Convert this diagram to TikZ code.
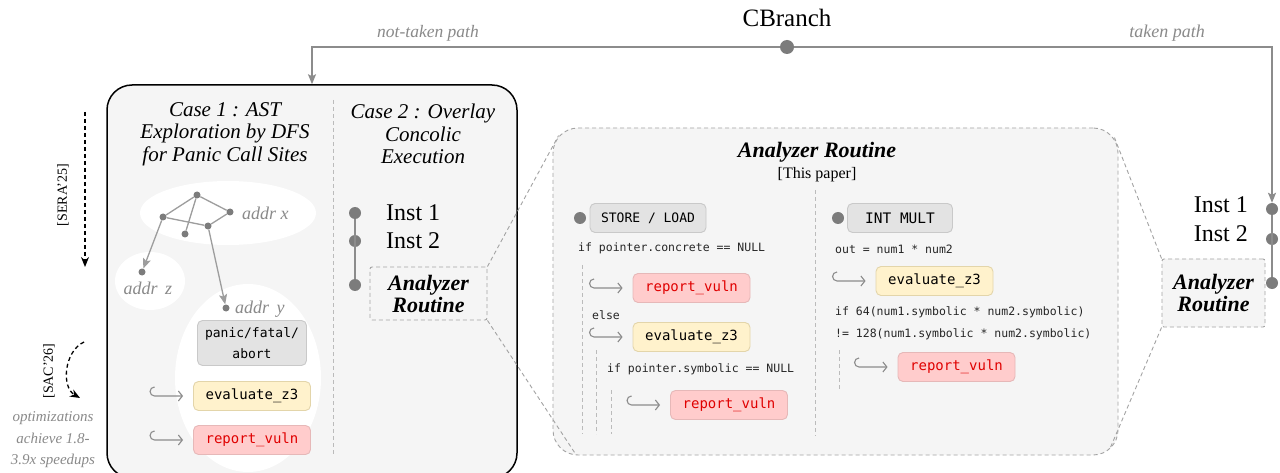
\documentclass[tikz,border=0pt]{standalone}
\usepackage{fontspec}
\setmainfont{Liberation Serif}
\setmonofont{DejaVu Sans Mono}
\usetikzlibrary{arrows.meta,positioning,calc}

\definecolor{panelbg}{HTML}{F5F5F5}
\definecolor{linegray}{HTML}{8C8C8C}
\definecolor{dotgray}{HTML}{7C7C7C}
\definecolor{sepgray}{HTML}{BBBBBB}
\definecolor{txtgray}{HTML}{8A8A8A}
\definecolor{instbg}{HTML}{E3E3E3}
\definecolor{instbd}{HTML}{C9C9C9}
\definecolor{evalbg}{HTML}{FFF2CC}
\definecolor{evalbd}{HTML}{E3D5AA}
\definecolor{vulnbg}{HTML}{FFCCCC}
\definecolor{vulnbd}{HTML}{E6B8B8}
\definecolor{vulntxt}{HTML}{E00000}

\newcommand{\fsz}[2]{\fontsize{#1}{#2}\selectfont}
% hook arrow pointing at the west side of a box
\newcommand{\hookto}[1]{%
  \draw[hookline] ($(#1.west)+(-38.5,-9)$) arc[start angle=270,end angle=90,radius=4.5]
    -- ($(#1.west)+(-10,0)$);}

\tikzset{
  gdot/.style={circle,fill=dotgray,inner sep=0pt,minimum size=12pt},
  sdot/.style={circle,fill=dotgray,inner sep=0pt,minimum size=7pt},
  codebox/.style={rounded corners=5pt,draw,line width=0.9pt,inner xsep=0pt,minimum height=29pt},
  instbox/.style={codebox,fill=instbg,draw=instbd,font=\ttfamily\fsz{13}{15}},
  evalbox/.style={codebox,fill=evalbg,draw=evalbd,minimum width=117pt,font=\ttfamily\fsz{14}{16}},
  vulnbox/.style={codebox,fill=vulnbg,draw=vulnbd,text=vulntxt,minimum width=117pt,font=\ttfamily\fsz{14}{16}},
  code/.style={anchor=west,inner sep=0pt,text=black!85,font=\ttfamily\fsz{11.5}{13}},
  hookline/.style={draw=linegray,line width=1.1pt,-{Straight Barb[length=4pt,width=10pt]}},
  sepline/.style={draw=sepgray,line width=0.8pt,dash pattern=on 4pt off 3pt},
  flow/.style={draw=linegray,line width=1.4pt},
  edge/.style={draw=linegray!85,line width=1.3pt},
  casetitle/.style={align=center,font=\itshape\fsz{21}{22.5}},
  routine/.style={align=center,font=\bfseries\itshape\fsz{22}{22}},
  inst/.style={inner sep=0pt,font=\fsz{24}{26}},
  addr/.style={inner sep=0pt,text=txtgray,font=\itshape\fsz{18}{20}},
  zoomline/.style={draw=linegray!80,line width=0.9pt,dash pattern=on 4pt off 3pt}
}

\begin{document}
\begin{tikzpicture}[x=1pt,y=-1pt]
\useasboundingbox[fill=white] (0,0) rectangle (1280,473);

% main box with the two cases
\node[draw=black,line width=1.5pt,fill=panelbg,rounded corners=25pt,
      minimum width=410pt,minimum height=393pt,inner sep=0pt] (mainbox) at (312,281.5) {};
\draw[sepline] (333,100) -- (333,455);

% CBranch
\node[font=\fsz{25}{27}] (cbr) at (787,18) {CBranch};
\node[gdot,minimum size=14pt] (cbdot) at (787,47) {};
\node[gdot] (ri1) at (1272,209) {};
\node[gdot] (ri2) at (1272,239) {};
\node[gdot] (ri3) at (1272,283) {};
\draw[flow,-{Stealth[length=10pt,width=8pt,inset=2pt]}] (cbdot) -| (mainbox.north);
\draw[flow,-{Stealth[length=10pt,width=8pt,inset=2pt]}] (cbdot) -| (ri1.north);
\draw[flow] (ri1) -- (ri3);
\node[text=txtgray,font=\itshape\fsz{17.5}{19}] (ntp) at (428,33) {not-taken path};
\node[text=txtgray,font=\itshape\fsz{18}{19}] (tp) at (1167,33) {taken path};

% Case 1
\node[casetitle] (c1) at (225,134) {Case 1 : AST\\Exploration by DFS\\for Panic Call Sites};
\fill[white] (228,213) ellipse [x radius=88,y radius=32];
\fill[white] (150,281) ellipse [x radius=35,y radius=29];
\fill[white] (248,378) ellipse [x radius=73,y radius=94];
\node[sdot] (g1) at (197,195) {};
\node[sdot] (g2) at (163,217) {};
\node[sdot] (g3) at (230,212) {};
\node[sdot] (g4) at (185,234) {};
\node[sdot] (g5) at (208,226) {};
\node[sdot] (gz) at (142,272) {};
\node[sdot] (gy) at (226,308) {};
\draw[edge] (g2) -- (g1) -- (g3) -- (g5) -- (g2);
\draw[edge] (g1) -- (g4);
\draw[edge,-{Stealth[length=10pt,width=8pt,inset=2pt]}] (g2) -- (gz);
\draw[edge,-{Stealth[length=10pt,width=8pt,inset=2pt]}] (g5) -- (gy);
\node[addr,anchor=west] (ax) at (242,213) {addr x};
\node[addr] (az) at (148,288) {addr\, z};
\node[addr,anchor=west] (ay) at (235,309) {addr\, y};
\node[instbox,minimum width=109pt,minimum height=45pt,align=center,font=\ttfamily\fsz{13}{21}] (panic) at (252,343) {panic/fatal/\\abort};
\node[evalbox] (ev1) at (252,396) {evaluate\_z3};
\node[vulnbox] (rv1) at (252,440) {report\_vuln};
\hookto{ev1}
\hookto{rv1}

% side notes
\coordinate (sera1) at (85,112);
\coordinate (sera2) at (85,267);
\draw[black,line width=1.3pt,dash pattern=on 4pt off 3pt,-{Stealth[length=10pt,width=8pt]}] (sera1) -- (sera2);
\node[rotate=90,font=\fsz{14}{16}] (sera) at (63,195) {[SERA'25]};
\coordinate (sac1) at (84,342);
\coordinate (sac2) at (80,398);
\draw[black,line width=1.3pt,dash pattern=on 4pt off 3pt,-{Stealth[length=10pt,width=8pt]}] (sac1) to[out=205,in=150] (sac2);
\node[rotate=90,font=\fsz{14}{16}] (sac) at (49,371) {[SAC'26]};
\node[align=center,text=txtgray,font=\itshape\fsz{15}{21.5}] (opt) at (53,440) {optimizations\\achieve 1.8-\\3.9x speedups};

% Case 2
\node[casetitle] (c2) at (423,134) {Case 2 : Overlay\\Concolic\\Execution};
\node[gdot] (li1) at (355,213) {};
\node[gdot] (li2) at (355,241) {};
\node[gdot] (li3) at (355,285) {};
\draw[flow] (li1) -- (li3);
\node[inst,anchor=west] (lt1) at (386,213) {Inst 1};
\node[inst,anchor=west] (lt2) at (386,241) {Inst 2};
\node[zoomline,fill=panelbg,rounded corners=2pt,minimum width=117pt,minimum height=53pt,routine] (lar) at (428.5,293.5) {Analyzer\\Routine};

% right side
\node[inst,anchor=east] (rt1) at (1248,205) {Inst 1};
\node[inst,anchor=east] (rt2) at (1248,234) {Inst 2};
\node[zoomline,fill=panelbg,rounded corners=2pt,minimum width=103pt,minimum height=68pt,routine] (rar) at (1213.5,293) {Analyzer\\Routine};

% analyzer routine panel
\node[zoomline,fill=panelbg,rounded corners=25pt,minimum width=565pt,minimum height=327pt,inner sep=0pt] (pan) at (835.5,291.5) {};
\draw[zoomline] (lar.north east) -- ($(pan.north west)+(6,8)$);
\draw[zoomline] (lar.south east) -- ($(pan.south west)+(22,-3)$);
\draw[zoomline] (rar.north west) -- ($(pan.north east)+(-4,10)$);
\draw[zoomline] (rar.south west) -- ($(pan.south east)+(-8,-8)$);
\node[routine] (pt) at (817,152) {Analyzer Routine};
\node[font=\fsz{16}{18}] (pp) at (817,175) {[This paper]};
\draw[sepline] (815,190) -- (815,436);

% STORE / LOAD column
\node[gdot] (sd) at (580,218) {};
\node[instbox,minimum width=116pt] (sl) at (648,218) {STORE / LOAD};
\node[code] (cc) at (578,248) {if pointer.concrete == NULL};
\draw[sepline] (582,265) -- (582,434);
\node[vulnbox] (rv2) at (691.5,288) {report\_vuln};
\hookto{rv2}
\node[code] (el) at (592,315) {else};
\node[evalbox] (ev2) at (691.5,337) {evaluate\_z3};
\hookto{ev2}
\draw[sepline] (596,350) -- (596,434);
\node[code] (cs) at (607,369) {if pointer.symbolic == NULL};
\draw[sepline] (611,390) -- (611,434);
\node[vulnbox] (rv3) at (729,405) {report\_vuln};
\hookto{rv3}

% INT MULT column
\node[gdot] (md) at (838,218) {};
\node[instbox,minimum width=105pt,font=\ttfamily\fsz{14.5}{16}] (im) at (900,218) {INT MULT};
\node[code] (co) at (835,249) {out = num1 * num2};
\node[evalbox] (ev3) at (934.5,281) {evaluate\_z3};
\hookto{ev3}
\node[code] (c64) at (835,312) {if 64(num1.symbolic * num2.symbolic)};
\node[code] (c128) at (835,334) {!= 128(num1.symbolic * num2.symbolic)};
\draw[sepline] (839,350) -- (839,390);
\node[vulnbox] (rv4) at (956.5,367) {report\_vuln};
\hookto{rv4}
\end{tikzpicture}
\end{document}
